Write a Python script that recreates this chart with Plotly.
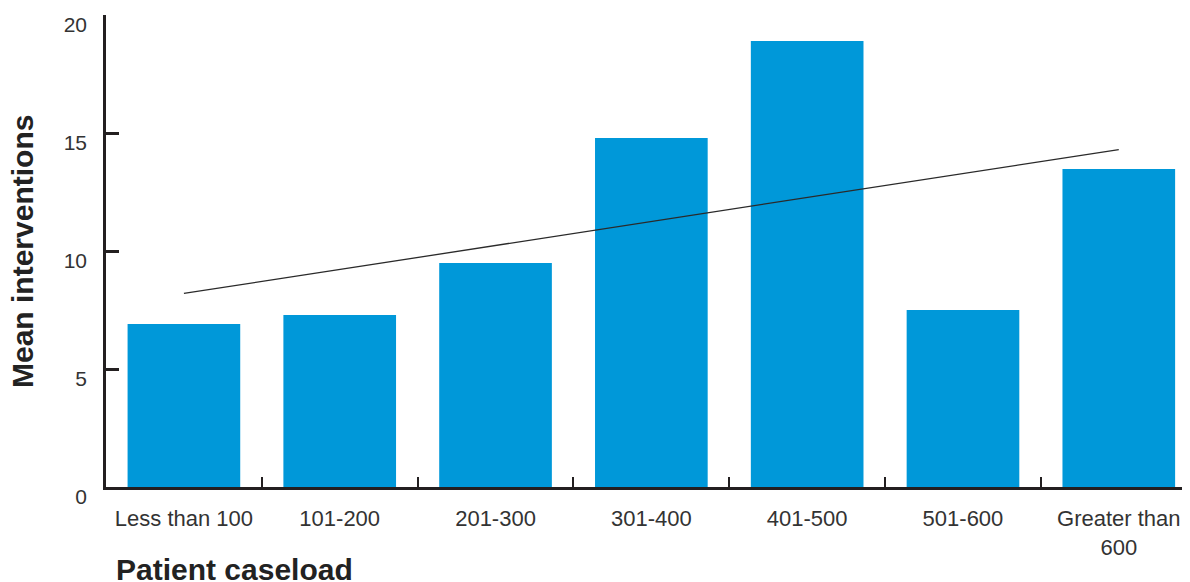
import plotly.graph_objects as go

categories = ["Less than 100", "101-200", "201-300", "301-400", "401-500", "501-600", "Greater than<br>600"]
mean_interventions = [6.91, 7.29, 9.49, 14.79, 18.9, 7.5, 13.47]
trend_x = [categories[0], categories[-1]]
trend_y = [8.2, 14.3]
y_ticks = [0, 5, 10, 15, 20]

AX = "#231f20"
FONT = "Liberation Sans, Arial, sans-serif"

fig = go.Figure()
fig.add_trace(go.Bar(x=categories, y=mean_interventions, marker=dict(color="#0098d9", line=dict(width=0)),
                     width=0.723, showlegend=False))
fig.add_trace(go.Scatter(x=trend_x, y=trend_y, mode="lines", line=dict(color="#2a2a2a", width=1.3),
                         showlegend=False))

# page body has an 8px default margin; the figure is sized to fill the rest of the window
fig.update_layout(
    width=1182, height=574,
    margin=dict(l=98, r=0, t=7, b=95),
    paper_bgcolor="white", plot_bgcolor="white",
    font=dict(family=FONT, color="#333333", size=21),
    xaxis=dict(type="category", range=[-0.5, 6.457], showline=True, linecolor=AX, linewidth=2.5,
               ticks="inside", tickson="boundaries", ticklen=10, tickwidth=2, tickcolor=AX,
               showgrid=False, zeroline=False, tickfont=dict(size=22, color="#333333"),
               ticklabelstandoff=10, automargin=False),
    yaxis=dict(range=[0, 20], tickvals=y_ticks, showline=True, linecolor=AX, linewidth=2.5,
               ticks="inside", ticklen=13, tickwidth=2.5, tickcolor=AX,
               showgrid=False, zeroline=False, tickfont=dict(size=21, color="#333333"),
               ticklabelshift=10, ticklabelstandoff=12, automargin=False,
               ticklabeloverflow="allow"),
    annotations=[
        dict(text="<b>Mean interventions</b>", xref="paper", yref="paper", x=-0.0775, y=0.5,
             xanchor="center", yanchor="middle", textangle=-90, showarrow=False,
             font=dict(size=30, color="#222222", family=FONT)),
        dict(text="<b>Patient caseload</b>", xref="paper", yref="paper", x=0.0074, y=-0.175,
             xanchor="left", yanchor="middle", showarrow=False,
             font=dict(size=30, color="#222222", family=FONT)),
    ],
)

fig.write_html("out.html")
